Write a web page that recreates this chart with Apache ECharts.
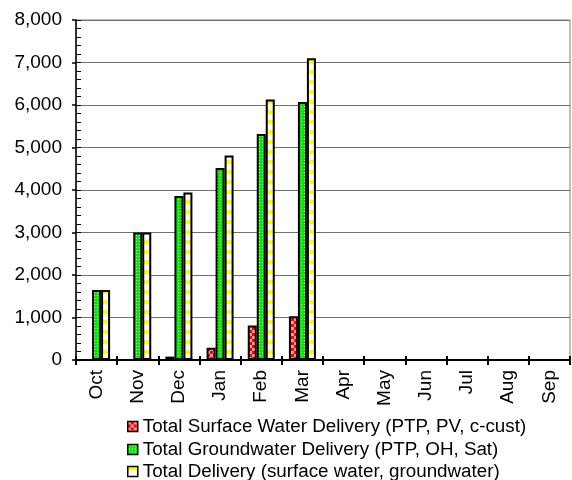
<!DOCTYPE html>
<html>
<head>
<meta charset="utf-8">
<style>
  html, body { margin: 0; padding: 0; background: #ffffff; }
  #chart { width: 572px; height: 480px; }
</style>
<script src="https://cdn.jsdelivr.net/npm/echarts@6/dist/echarts.min.js"></script>
</head>
<body>
<div id="chart"></div>
<script>
// Water year months
var months = ['Oct', 'Nov', 'Dec', 'Jan', 'Feb', 'Mar', 'Apr', 'May', 'Jun', 'Jul', 'Aug', 'Sep'];

// Cumulative deliveries (no data yet for Apr–Sep)
var surfaceWater = [0, 0, 80, 290, 810, 1030, null, null, null, null, null, null];
var groundwater = [1650, 3000, 3860, 4520, 5320, 6070, null, null, null, null, null, null];
var totalDelivery = [1650, 3000, 3940, 4810, 6130, 7100, null, null, null, null, null, null];

var seriesNames = [
  'Total Surface Water Delivery (PTP, PV, c-cust)',
  'Total Groundwater Delivery (PTP, OH, Sat)',
  'Total Delivery (surface water, groundwater)'
];

var FONT = "'Liberation Sans', Arial, sans-serif";

// Fill patterns for the bars
function makeTile(w, h, paint) {
  var c = document.createElement('canvas');
  c.width = w; c.height = h;
  paint(c.getContext('2d'));
  return c;
}
var checkerTile = makeTile(6, 6, function (g) {
  g.fillStyle = '#ff0000'; g.fillRect(0, 0, 6, 6);
  g.fillStyle = '#ff9a9a'; g.fillRect(0, 0, 3, 3); g.fillRect(3, 3, 3, 3);
});
var dotTile = makeTile(3, 3, function (g) {
  g.fillStyle = '#00ee00'; g.fillRect(0, 0, 3, 3);
  g.fillStyle = '#ffffff'; g.fillRect(1, 1, 1, 1);
});
var stripeTile = makeTile(8, 10, function (g) {
  g.fillStyle = '#ffffff'; g.fillRect(0, 0, 8, 10);
  g.fillStyle = '#ffff00'; g.fillRect(0, 0, 8, 4);
});

function barSeries(name, data, tile) {
  return {
    name: name,
    type: 'bar',
    data: data,
    barWidth: 9,
    barGap: '0%',
    itemStyle: {
      color: { image: tile, repeat: 'repeat' },
      borderColor: '#000000',
      borderWidth: 2
    },
    emphasis: { disabled: true }
  };
}

// One legend row per series, stacked under the axis labels
function legendRow(name, top) {
  return {
    orient: 'vertical',
    left: 127,
    top: top,
    padding: 0,
    itemWidth: 10,
    itemHeight: 10,
    icon: 'rect',
    selectedMode: false,
    itemStyle: { borderWidth: 1.5 },
    textStyle: { fontFamily: FONT, fontSize: 18.8, color: '#000000' },
    data: [name]
  };
}

var chart = echarts.init(document.getElementById('chart'), null, { renderer: 'canvas' });
chart.setOption({
  backgroundColor: '#ffffff',
  animation: false,
  textStyle: { fontFamily: FONT },
  grid: {
    left: 76, right: 2, top: 20, bottom: 120,
    show: true, borderColor: '#808080', borderWidth: 1
  },
  legend: [
    legendRow(seriesNames[0], 417),
    legendRow(seriesNames[1], 440),
    legendRow(seriesNames[2], 462)
  ],
  xAxis: [
    {
      type: 'category',
      data: months,
      axisLine: { lineStyle: { color: '#000000', width: 2 } },
      axisTick: { show: true, length: 5, lineStyle: { color: '#000000', width: 2 } },
      axisLabel: { rotate: 90, margin: 10, fontSize: 19, color: '#000000', fontFamily: FONT, interval: 0 }
    },
    {
      type: 'category',
      data: months,
      position: 'bottom',
      axisLine: { show: false },
      axisTick: { show: true, inside: true, length: 4, lineStyle: { color: '#000000', width: 2 } },
      axisLabel: { show: false },
      splitLine: { show: false }
    }
  ],
  yAxis: [
    {
      type: 'value',
      min: 0, max: 8000, interval: 1000,
      axisLine: { show: true, lineStyle: { color: '#000000', width: 1.5 } },
      axisTick: { show: true, length: 4, lineStyle: { color: '#000000', width: 1.5 } },
      axisLabel: {
        margin: 14, fontSize: 19, color: '#000000', fontFamily: FONT,
        formatter: function (v) { return v.toLocaleString('en-US'); }
      },
      splitLine: { show: true, lineStyle: { color: '#707070', width: 1.2 } }
    },
    {
      type: 'value',
      position: 'left',
      min: 0, max: 8000, interval: 200,
      axisLine: { show: false },
      axisTick: { show: true, inside: true, length: 5, lineStyle: { color: '#000000', width: 1 } },
      axisLabel: { show: false },
      splitLine: { show: false }
    }
  ],
  series: [
    barSeries(seriesNames[0], surfaceWater, checkerTile),
    barSeries(seriesNames[1], groundwater, dotTile),
    barSeries(seriesNames[2], totalDelivery, stripeTile)
  ]
});
</script>
</body>
</html>
